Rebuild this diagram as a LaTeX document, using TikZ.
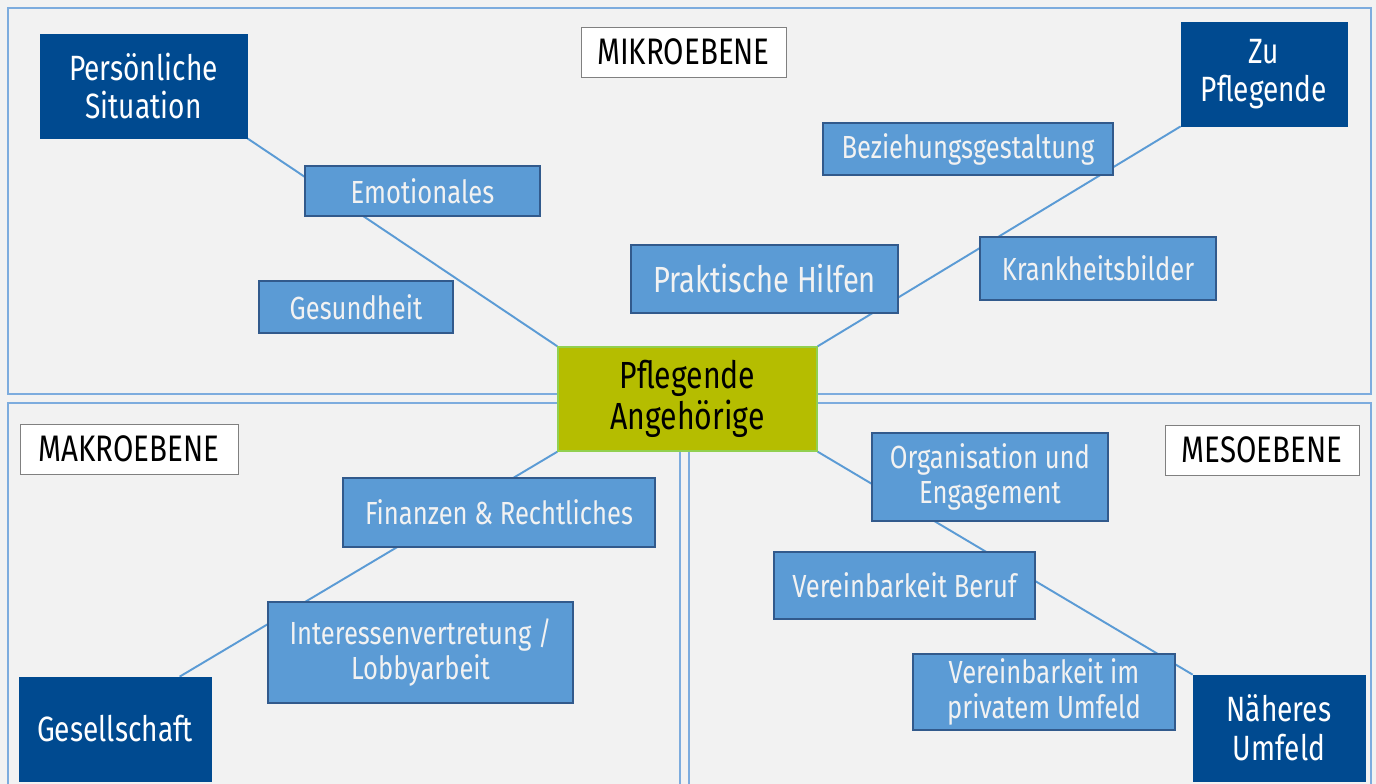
\documentclass[tikz,border=0pt]{standalone}
\usepackage{fontspec}
\setmainfont{Fira Sans}[FakeStretch=0.8]
\usetikzlibrary{positioning}
\definecolor{dunkelblau}{RGB}{0,74,144}
\definecolor{mittelblau}{RGB}{91,155,213}
\definecolor{randblau}{RGB}{50,90,140}
\definecolor{oliv}{RGB}{181,189,0}
\definecolor{hellgruen}{RGB}{146,208,80}
\definecolor{rahmenblau}{RGB}{125,172,222}
\definecolor{hintergrau}{RGB}{242,242,242}
\pgfdeclarelayer{flaeche}
\pgfdeclarelayer{linien}
\pgfsetlayers{flaeche,linien,main}
\tikzset{
  haupt/.style = {draw=dunkelblau, fill=dunkelblau, text=white, align=center, inner sep=0pt,
                  font=\fontsize{20}{22}\selectfont},
  thema/.style = {draw=randblau, line width=0.8pt, fill=mittelblau, text=hintergrau, align=center, inner sep=0pt,
                  font=\fontsize{18.2}{19.5}\selectfont},
  ebene/.style = {draw=gray, fill=white, text=black, inner sep=0pt, minimum height=1cm,
                  font=\fontsize{21}{23}\selectfont},
  feld/.style  = {draw=rahmenblau, line width=1.3pt, fill=hintergrau},
  ast/.style   = {draw=mittelblau, line width=1.1pt}
}

\begin{document}
\begin{tikzpicture}[x=0.02cm, y=-0.02cm]
	\clip (0,0) rectangle (1376,784);
	\begin{pgfonlayer}{flaeche}
		\fill[hintergrau] (0,0) rectangle (1376,784);
		\draw[feld] (8,8) rectangle (1371,394);
		\draw[feld] (8,403) rectangle (680,800);
		\draw[feld] (689,403) rectangle (1371,800);
	\end{pgfonlayer}

	% Mitte
	\node[draw=hellgruen, line width=0.8pt, fill=oliv, align=center, inner sep=0pt,
	      minimum width=5.18cm, minimum height=2.08cm, font=\fontsize{21.5}{23.5}\selectfont]
	      (pflang) at (687.5,399) {Pflegende\\Angehörige};

	% Ebenen
	\node[ebene, minimum width=4.10cm] (mikro) at (683.5,52) {MIKROEBENE};
	\node[ebene, minimum width=4.36cm] (makro) at (129,449) {MAKROEBENE};
	\node[ebene, minimum width=3.88cm] (meso) at (1262,450) {MESOEBENE};

	% Bezugsgruppen
	\node[haupt, minimum width=4.14cm, minimum height=2.08cm] (pers) at (143.5,86) {Persönliche\\Situation};
	\node[haupt, minimum width=3.32cm, minimum height=2.08cm] (zupfl) at (1264,74) {Zu\\Pflegende};
	\node[haupt, minimum width=3.84cm, minimum height=2.08cm] (gesell) at (115,729) {Gesellschaft};
	\node[haupt, minimum width=3.44cm, minimum height=2.12cm] (naeher) at (1279,728) {Näheres\\Umfeld};

	% Themen
	\node[thema, minimum width=5.80cm, minimum height=1.04cm] (bez) at (968,149) {Beziehungsgestaltung};
	\node[thema, minimum width=4.70cm, minimum height=1.00cm] (emo) at (422.5,191) {Emotionales};
	\node[thema, minimum width=5.34cm, minimum height=1.36cm, font=\fontsize{20.7}{22}\selectfont] (prak) at (764.5,279) {Praktische Hilfen};
	\node[thema, minimum width=4.72cm, minimum height=1.26cm] (krank) at (1098,268.5) {Krankheitsbilder};
	\node[thema, minimum width=3.88cm, minimum height=1.04cm] (gesund) at (356,307) {Gesundheit};
	\node[thema, minimum width=6.24cm, minimum height=1.38cm] (fin) at (499,512.5) {Finanzen \& Rechtliches};
	\node[thema, minimum width=4.72cm, minimum height=1.76cm] (orga) at (990,477) {Organisation und\\Engagement};
	\node[thema, minimum width=5.22cm, minimum height=1.34cm] (beruf) at (904.5,585.5) {Vereinbarkeit Beruf};
	\node[thema, minimum width=6.10cm, minimum height=2.02cm] (inter) at (420.5,652.5) {Interessenvertretung /\\Lobbyarbeit};
	\node[thema, minimum width=5.24cm, minimum height=1.52cm] (privat) at (1044,692) {Vereinbarkeit im\\privatem Umfeld};

	% Verbindungen
	\begin{pgfonlayer}{linien}
		\draw[ast] (pers.south east) -- (pflang.north west);
		\draw[ast] (zupfl.south west) -- (pflang.north east);
		\draw[ast] (gesell.39.5) -- (pflang.south west);
		\draw[ast] (naeher.north west) -- (pflang.south east);
	\end{pgfonlayer}

\end{tikzpicture}
\end{document}
